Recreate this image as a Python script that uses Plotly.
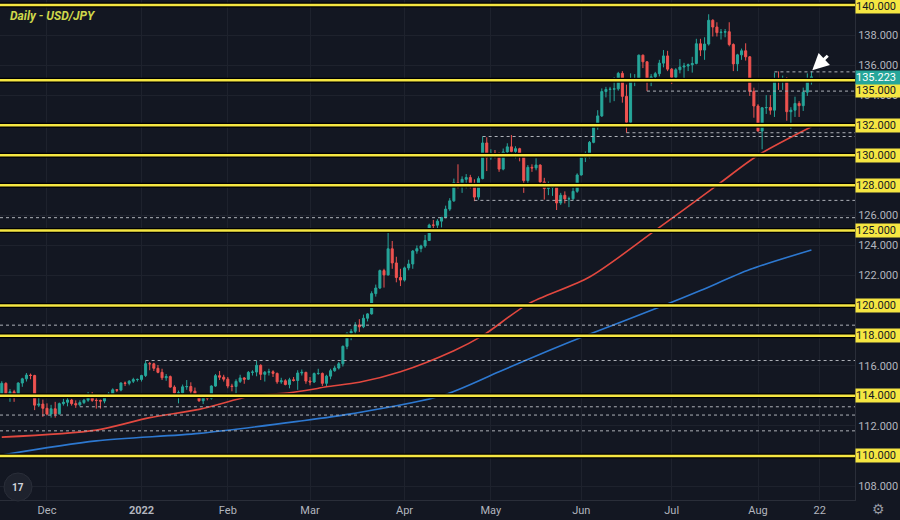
import numpy as np
import pandas as pd
import plotly.graph_objects as go

# ---------------- data ----------------
dates = [d.strftime("%Y-%m-%d") for d in pd.bdate_range("2021-11-15", "2022-08-18")]

opens = [
    # Nov
    113.90,114.13,114.83,114.09,114.27,114.02,114.85,115.13,115.38,115.35,113.38,113.45,
    # Dec
    113.17,112.79,113.14,112.80,113.48,113.57,113.72,113.48,113.40,113.55,113.71,114.05,113.70,113.69,113.65,114.08,114.12,114.40,114.38,114.85,114.83,114.97,115.08,
    # Jan
    115.09,115.35,116.14,116.13,115.83,115.56,115.20,115.28,114.58,114.18,114.20,114.60,114.62,114.31,114.07,113.67,113.99,113.84,114.65,115.34,115.24,
    # Feb
    115.11,114.65,114.62,114.96,115.19,115.10,115.56,115.58,116.03,115.43,115.57,115.60,115.49,114.93,115.00,114.75,115.07,115.02,115.52,115.56,
    # Mar
    114.98,114.92,115.48,115.49,114.83,115.31,115.67,115.85,116.13,117.29,118.17,118.29,118.71,118.59,119.16,119.45,120.80,121.17,122.33,122.04,123.78,122.84,121.87,
    # Apr
    121.70,122.51,122.77,123.63,123.79,123.97,124.33,125.36,125.35,125.62,125.87,126.42,126.97,128.19,127.89,128.40,128.52,128.14,127.22,128.45,130.82,
    # May
    129.84,130.15,130.09,129.08,130.22,130.56,130.26,130.44,129.93,128.32,129.20,129.16,129.35,128.23,127.79,127.86,127.90,126.83,127.34,127.10,127.11,127.60,
    # Jun
    128.69,129.86,129.88,130.86,131.88,132.62,134.24,134.38,134.40,134.42,135.45,133.92,132.20,134.97,135.03,136.66,136.22,134.95,135.22,135.43,136.13,136.61,
    # Jul
    135.73,135.19,135.69,135.87,135.94,136.02,136.11,137.42,137.00,137.40,138.98,138.53,138.16,138.19,138.22,137.37,136.08,136.68,136.95,136.55,134.25,
    # Aug
    133.28,131.61,133.16,133.18,133.00,135.00,134.97,135.10,132.90,133.00,133.45,133.30,134.20,134.95,
]
highs = [
    114.20,114.97,114.90,114.45,114.40,114.90,115.20,115.52,115.48,115.40,113.90,113.75,
    113.50,113.40,113.60,113.55,113.80,113.95,113.80,113.70,113.70,113.80,114.25,114.25,113.85,113.75,114.10,114.25,114.50,114.45,114.90,114.95,115.05,115.20,115.15,
    115.40,116.35,116.25,116.20,116.05,115.80,115.45,115.35,114.70,114.35,114.75,115.05,114.90,114.55,114.15,114.05,114.05,114.70,115.45,115.65,115.40,
    115.25,114.80,115.10,115.40,115.25,115.65,115.70,116.34,116.10,115.65,115.80,115.70,115.55,115.20,115.10,115.20,115.25,115.70,115.75,115.60,
    115.25,115.55,115.80,115.55,115.40,115.80,116.00,116.25,117.35,118.20,118.45,118.90,119.10,119.40,119.50,120.95,121.40,122.40,122.45,125.09,124.30,123.25,122.45,
    122.60,123.05,123.70,124.00,124.05,124.70,125.45,125.70,125.75,125.90,126.65,127.15,128.45,129.40,128.60,128.75,128.70,128.40,128.60,131.25,131.20,
    130.40,130.35,130.20,130.45,130.80,131.35,130.60,130.50,130.00,129.35,129.40,129.80,129.40,128.50,128.25,128.10,128.00,127.50,127.60,127.25,127.85,128.80,
    130.00,130.25,130.95,131.95,133.00,134.45,134.55,134.55,135.20,135.55,135.60,134.70,135.45,135.40,136.70,136.70,136.25,135.40,135.55,136.35,137.00,136.95,
    135.80,135.80,136.40,136.15,136.10,136.55,137.75,137.75,137.85,139.38,139.05,138.85,138.40,138.40,138.85,137.45,136.75,137.10,137.45,136.60,134.50,
    133.40,133.20,134.00,134.00,135.50,135.58,135.30,135.20,133.20,133.90,133.60,134.50,135.45,135.60,
]
lows = [
    113.75,114.05,113.90,113.60,113.60,113.95,114.60,114.95,115.10,113.05,113.25,112.60,
    112.70,112.55,112.55,112.75,113.35,113.30,113.35,113.20,113.30,113.45,113.60,113.60,113.15,113.15,113.50,113.90,114.05,114.25,114.30,114.65,114.70,114.85,114.95,
    114.95,115.25,115.70,115.65,115.50,115.05,115.00,114.55,113.95,113.50,114.15,114.40,114.10,113.95,113.60,113.45,113.70,113.75,114.60,115.05,114.95,
    114.50,114.30,114.15,114.85,114.80,115.05,115.35,115.30,115.05,114.95,115.35,115.25,114.80,114.80,114.70,114.50,114.95,114.40,115.35,114.80,
    114.70,114.85,115.40,114.65,114.65,115.10,115.60,115.75,115.95,117.10,117.70,118.00,118.25,118.50,118.95,119.40,120.60,121.10,121.20,122.00,122.45,121.55,121.30,
    121.60,122.35,122.45,123.45,123.55,123.85,124.30,124.95,125.00,125.20,125.80,126.30,126.90,127.80,127.50,127.80,127.80,126.95,127.05,128.40,128.95,
    129.70,129.80,128.90,129.00,129.95,130.20,129.80,129.60,127.50,127.90,128.90,129.00,128.10,127.05,127.35,127.30,126.36,126.70,126.80,126.55,127.00,127.50,
    128.65,129.55,129.80,130.80,131.70,132.55,133.85,133.50,133.60,134.30,133.50,131.50,131.90,134.60,134.90,135.80,134.27,134.60,134.95,135.25,135.85,135.60,
    134.75,135.05,135.45,135.00,135.60,135.50,136.05,136.60,136.35,137.30,137.90,137.90,137.70,137.85,137.25,135.60,135.60,136.35,136.30,133.95,132.50,
    131.60,130.40,132.75,132.70,132.55,134.35,134.35,132.30,131.75,132.55,132.55,132.95,133.95,134.70,
]
closes = [
    114.13,114.83,114.09,114.27,114.02,114.85,115.13,115.38,115.35,113.38,113.45,113.17,
    112.79,113.14,112.80,113.48,113.57,113.72,113.48,113.40,113.55,113.71,114.05,113.70,113.69,113.65,114.08,114.12,114.40,114.38,114.85,114.83,114.97,115.08,115.09,
    115.35,116.14,116.13,115.83,115.56,115.20,115.28,114.58,114.18,114.20,114.60,114.62,114.31,114.07,113.67,113.99,113.84,114.65,115.34,115.24,115.11,
    114.65,114.62,114.96,115.19,115.10,115.56,115.58,116.03,115.43,115.57,115.60,115.49,114.93,115.00,114.75,115.07,115.02,115.52,115.56,114.98,
    114.92,115.48,115.49,114.83,115.31,115.67,115.85,116.13,117.29,118.17,118.29,118.71,118.59,119.16,119.45,120.80,121.17,122.33,122.04,123.78,122.84,121.87,121.70,
    122.51,122.77,123.63,123.79,123.97,124.33,125.36,125.35,125.62,125.87,126.42,126.97,128.19,127.89,128.40,128.52,128.14,127.22,128.45,130.82,129.84,
    130.15,130.09,129.08,130.22,130.56,130.26,130.44,129.93,128.32,129.20,129.16,129.35,128.23,127.79,127.86,127.90,126.83,127.34,127.10,127.11,127.60,128.69,
    129.86,129.88,130.86,131.88,132.62,134.24,134.38,134.40,134.42,135.45,133.92,132.20,134.97,135.03,136.66,136.22,134.95,135.22,135.43,136.13,136.61,135.73,
    135.19,135.69,135.87,135.94,136.02,136.11,137.42,137.00,137.40,138.98,138.53,138.16,138.19,138.22,137.37,136.08,136.68,136.95,136.55,134.25,133.28,
    131.61,133.16,133.18,133.00,135.00,134.97,135.10,132.90,133.00,133.45,133.30,134.20,134.95,135.22,
]

# moving averages (red = 100 SMA, blue = 200 SMA)
ma100_dates = ["2021-11-16","2021-12-17","2022-01-05","2022-01-21","2022-02-09","2022-02-22","2022-03-01",
               "2022-03-07","2022-03-17","2022-03-31","2022-04-19","2022-04-28","2022-05-13","2022-06-03",
               "2022-06-27","2022-07-18","2022-08-01","2022-08-18"]
ma100_vals = [111.25,111.72,112.55,113.10,114.00,114.20,114.40,114.60,114.90,115.60,117.00,118.00,120.10,
              121.90,125.00,128.00,130.00,131.90]
ma200_dates = ["2021-11-16","2021-12-17","2022-01-21","2022-02-24","2022-03-15","2022-04-14","2022-05-04",
               "2022-05-20","2022-06-02","2022-06-29","2022-07-12","2022-07-28","2022-08-18"]
ma200_vals = [110.06,111.00,111.50,112.30,112.80,114.00,115.60,117.00,118.00,120.00,121.00,122.40,123.70]

# key levels
yellow_levels = [140, 135, 132, 130, 128, 125, 120, 118, 114, 110]
dotted_levels = [135.55, 134.27, 131.50, 131.25, 127.00, 125.85, 118.70, 116.35, 113.27, 112.72, 111.67]
dotted_starts = ["2022-08-05", "2022-06-23", "2022-06-16", "2022-04-28", "2022-04-26", None, None,
                 "2022-01-04", "2021-12-13", None, None]
current_price = 135.223

axis_ticks = [138, 136, 134, 126, 124, 122, 116, 112, 108]
tick_dates = ["2021-12-01","2022-01-03","2022-02-01","2022-03-01","2022-04-01","2022-05-02",
              "2022-06-01","2022-07-01","2022-08-01","2022-08-22"]
tick_text = ["Dec","<b>2022</b>","Feb","Mar","Apr","May","Jun","Jul","Aug","22"]

# ---------------- helpers ----------------
REF = "2021-12-01"
def bidx(ds):
    return np.busday_count(REF, np.array(ds, dtype="datetime64[D]")).astype(float)

x = bidx(dates)

BG = "#131722"
UP = "#26a69a"
DN = "#ef5350"
YEL = "#f5e642"
FONT = "Roboto"

fig = go.Figure()
fig.add_trace(go.Scatter(x=bidx(ma200_dates), y=ma200_vals, mode="lines",
                         line=dict(color="#2d78d0", width=1.6, shape="spline", smoothing=0.8),
                         hoverinfo="skip"))
fig.add_trace(go.Scatter(x=bidx(ma100_dates), y=ma100_vals, mode="lines",
                         line=dict(color="#e2483f", width=1.6, shape="spline", smoothing=0.8),
                         hoverinfo="skip"))
fig.add_trace(go.Candlestick(
    x=x, open=opens, high=highs, low=lows, close=closes,
    increasing=dict(line=dict(color=UP, width=1), fillcolor=UP),
    decreasing=dict(line=dict(color=DN, width=1), fillcolor=DN),
    whiskerwidth=0, showlegend=False))

shapes = []
for lv, st in zip(dotted_levels, dotted_starts):
    if st is None:
        shapes.append(dict(type="line", xref="paper", x0=0, x1=1, yref="y", y0=lv, y1=lv,
                           line=dict(color="#aeb1b8", width=1, dash="dot")))
    else:
        shapes.append(dict(type="line", xref="x", x0=float(bidx([st])[0]), x1=200, yref="y", y0=lv, y1=lv,
                           line=dict(color="#aeb1b8", width=1, dash="dot")))
for lv in yellow_levels:
    shapes.append(dict(type="line", xref="paper", x0=0, x1=1, yref="y", y0=lv, y1=lv,
                       line=dict(color="#000000", width=5)))
    shapes.append(dict(type="line", xref="paper", x0=0, x1=1, yref="y", y0=lv, y1=lv,
                       line=dict(color=YEL, width=2.5)))
# logo circle bottom-left
shapes.append(dict(type="circle", xref="paper", yref="paper", x0=4/855, x1=32/855,
                   y0=(500-501)/500, y1=(500-473)/500, fillcolor="#1e222d",
                   line=dict(color="#2a2e39", width=1)))

annotations = []
annotations.append(dict(text="<b><i>Daily - USD/JPY</i></b>", xref="paper", yref="paper",
                        x=8/855, y=1-16/500, xanchor="left", yanchor="middle", showarrow=False,
                        font=dict(family=FONT, size=12, color="#cfd84a")))
for lv in yellow_levels:
    annotations.append(dict(text=f"{lv:.3f}", xref="paper", yref="y", x=1, y=lv,
                            xanchor="left", yanchor="middle", showarrow=False,
                            yshift=-10 if lv == 135 else (-2 if lv == 140 else 0),
                            bgcolor=YEL, borderpad=0, width=45, height=13, align="left",
                            font=dict(family=FONT, size=11, color="#131722")))
annotations.append(dict(text=f"{current_price:.3f}", xref="paper", yref="y", x=1, y=current_price,
                        xanchor="left", yanchor="middle", showarrow=False, yshift=-1,
                        bgcolor=UP, borderpad=0, width=45, height=13, align="left",
                        font=dict(family=FONT, size=11, color="#ffffff")))
# white arrow pointing at the last candle
annotations.append(dict(text="", x=float(x[-1]) + 0.2, y=135.65, xref="x", yref="y",
                        ax=17, ay=-16, showarrow=True, arrowhead=2, arrowsize=1.1,
                        arrowwidth=3, arrowcolor="#ffffff", standoff=0, startstandoff=0))
# gear icon
annotations.append(dict(text="⚙", xref="paper", yref="paper", x=878/855, y=(500-509)/500,
                        xanchor="center", yanchor="middle", showarrow=False,
                        font=dict(family="DejaVu Sans", size=14, color="#9598a1")))
annotations.append(dict(text="<b>17</b>", xref="paper", yref="paper", x=18/855, y=(500-487)/500,
                        xanchor="center", yanchor="middle", showarrow=False,
                        font=dict(family=FONT, size=10, color="#d1d4dc")))

fig.update_layout(
    width=900, height=520,
    margin=dict(l=0, r=45, t=0, b=20),
    paper_bgcolor=BG, plot_bgcolor=BG,
    showlegend=False,
    shapes=shapes, annotations=annotations,
    font=dict(family=FONT, size=11, color="#b2b5be"),
    xaxis=dict(range=[-11.43, 196.6], tickvals=bidx(tick_dates), ticktext=tick_text,
               showgrid=True, gridcolor="#1e222d", gridwidth=1, zeroline=False,
               showline=True, linecolor="#2a2e39", ticks="", rangeslider=dict(visible=False),
               tickfont=dict(family=FONT, size=11, color="#b2b5be"), fixedrange=True),
    yaxis=dict(range=[107.07, 140.33], side="right", tickvals=axis_ticks,
               ticktext=[f"{v:.3f}" for v in axis_ticks],
               showgrid=True, gridcolor="#1e222d", gridwidth=1, zeroline=False,
               showline=True, linecolor="#2a2e39", ticks="",
               tickfont=dict(family=FONT, size=11, color="#b2b5be")),
)

fig.write_html("out.html")
